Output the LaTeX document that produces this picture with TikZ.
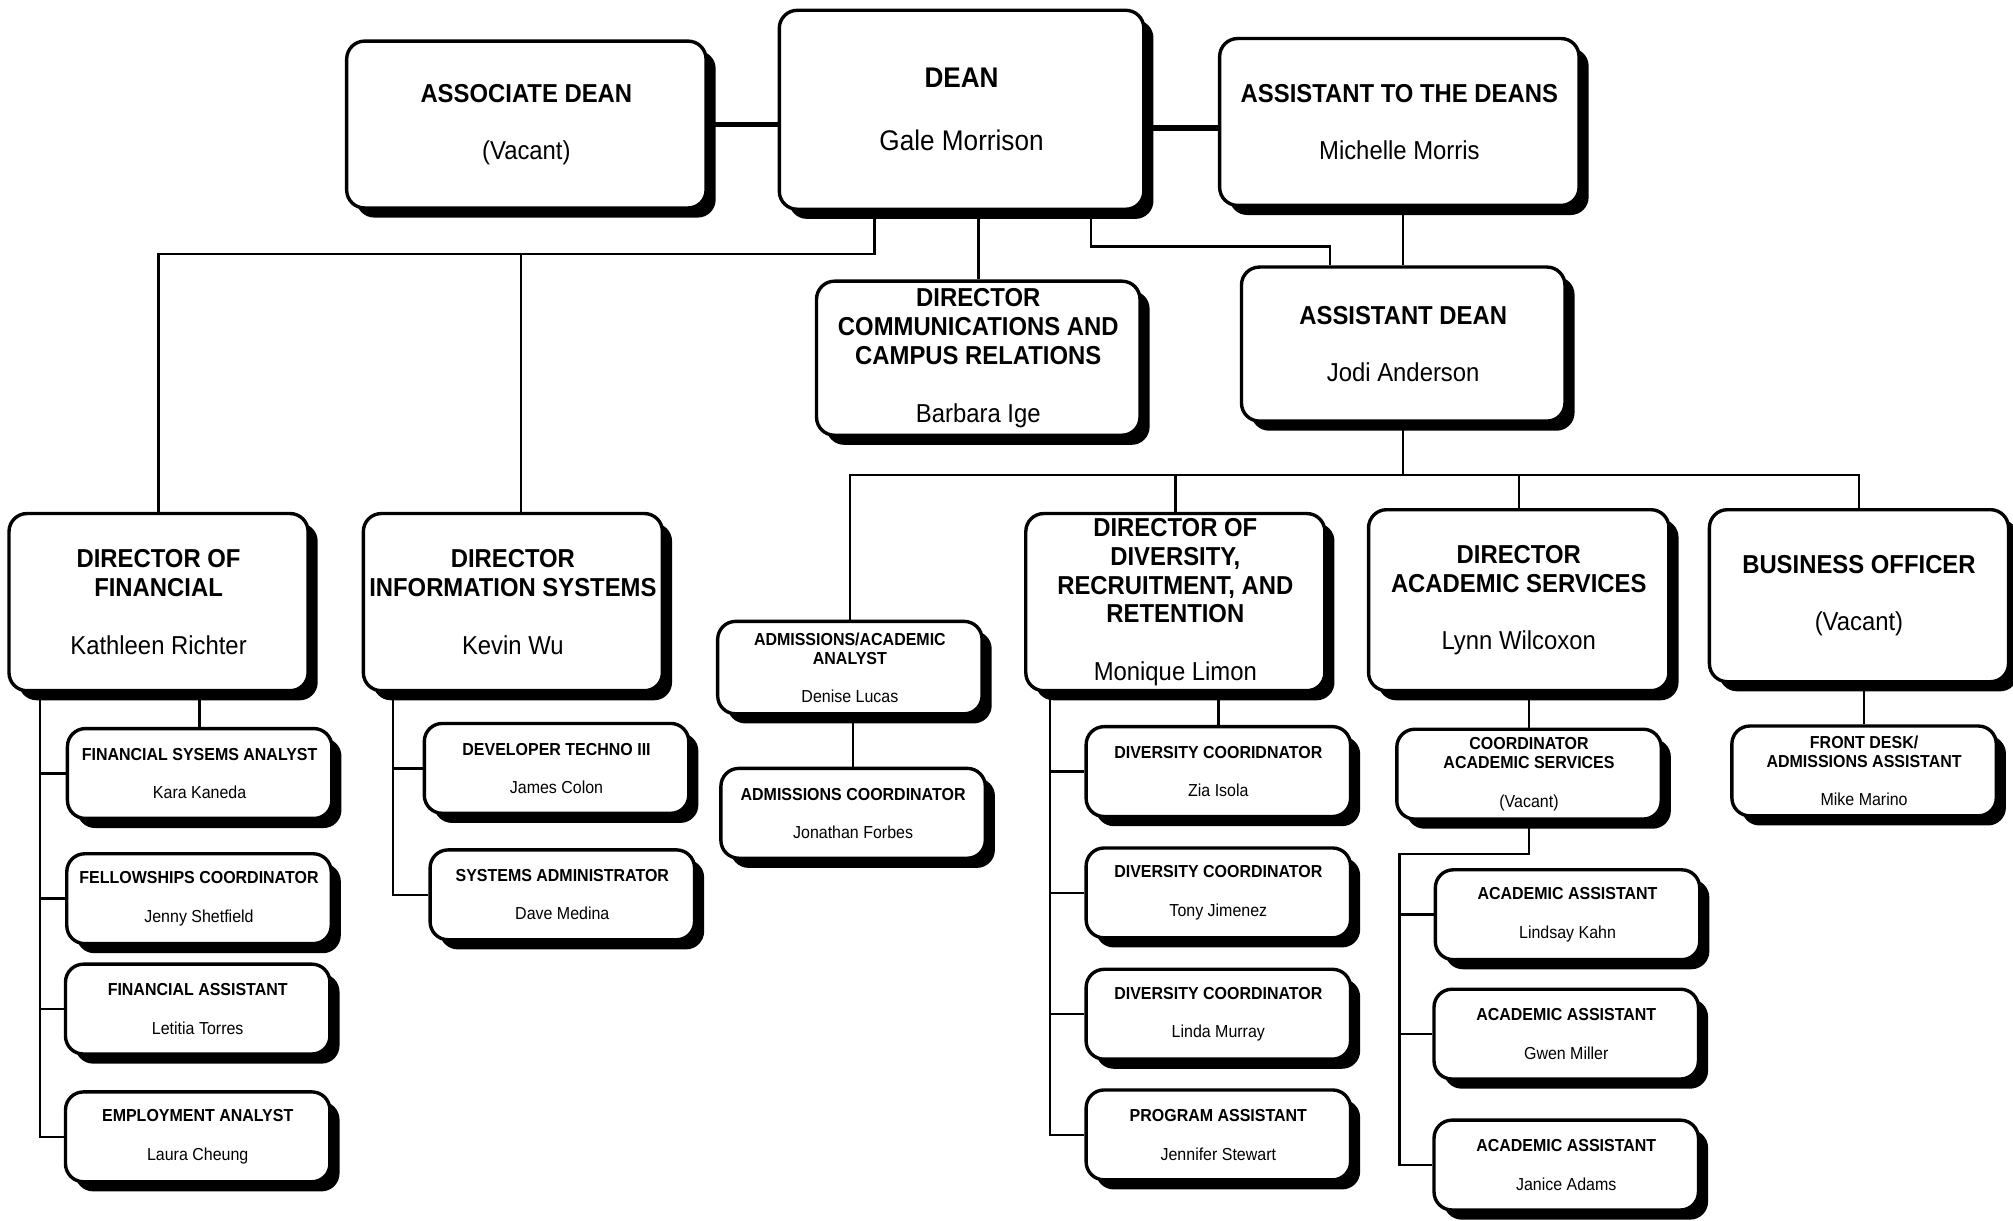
\documentclass[tikz,border=0pt]{standalone}
\usepackage{fontspec}
\setmainfont{Liberation Sans}[FakeStretch=0.92]
\usepackage{tikz}
\usetikzlibrary{shadows,backgrounds}

\tikzset{
	box/.style={draw, line width=1.5pt, fill=white, rounded corners=0.28cm, inner sep=0pt, align=center,
		drop shadow={shadow xshift=0.15cm, shadow yshift=-0.15cm, fill=black, opacity=1}},
	bigbox/.style={box, minimum width=4.66cm, minimum height=2.76cm, font=\fontsize{11.5}{12.8}\selectfont},
	smallbox/.style={box, minimum width=4.12cm, minimum height=1.4cm, font=\fontsize{7.7}{8.5}\selectfont},
	link/.style={line width=1.1pt},
	toplink/.style={line width=2.6pt}
}

\begin{document}
\begin{tikzpicture}[x=0.02cm,y=-0.02cm]
	\useasboundingbox (0,0) rectangle (1568,951);

	\node[bigbox, minimum width=5.6cm, minimum height=2.6cm] at (410,97) (assoc) {\textbf{ASSOCIATE DEAN}\\[12.8pt](Vacant)};
	\node[bigbox, minimum width=5.68cm, minimum height=3.1cm, font=\fontsize{12.6}{13}\selectfont] at (749,85.5) (dean) {\textbf{DEAN}\\[14.9pt]Gale Morrison};
	\node[bigbox, minimum width=5.6cm, minimum height=2.6cm] at (1090,95) (asstdeans) {\textbf{ASSISTANT TO THE DEANS}\\[12.8pt]Michelle Morris};

	\node[bigbox, minimum width=5.04cm, minimum height=2.4cm] at (762,279) (comm) {\textbf{DIRECTOR}\\\textbf{COMMUNICATIONS AND}\\\textbf{CAMPUS RELATIONS}\\[12.8pt]Barbara Ige};
	\node[bigbox, minimum width=5.04cm, minimum height=2.4cm] at (1093,268) (asstdean) {\textbf{ASSISTANT DEAN}\\[12.8pt]Jodi Anderson};

	\node[bigbox] at (123.5,469) (dirfin) {\textbf{DIRECTOR OF}\\\textbf{FINANCIAL}\\[12.8pt]Kathleen Richter};
	\node[bigbox] at (399.5,469) (diris) {\textbf{DIRECTOR}\\\textbf{INFORMATION SYSTEMS}\\[12.8pt]Kevin Wu};
	\node[smallbox, minimum height=1.44cm] at (662,520) (admanalyst) {\textbf{ADMISSIONS/ACADEMIC}\\\textbf{ANALYST}\\[8.5pt]Denise Lucas};
	\node[bigbox] at (915.5,469) (dirdiv) {\textbf{DIRECTOR OF}\\\textbf{DIVERSITY,}\\\textbf{RECRUITMENT, AND}\\\textbf{RETENTION}\\[12.8pt]Monique Limon};
	\node[bigbox, minimum width=4.68cm, minimum height=2.82cm] at (1183,467.5) (diracad) {\textbf{DIRECTOR}\\\textbf{ACADEMIC SERVICES}\\[12.8pt]Lynn Wilcoxon};
	\node[bigbox, minimum height=2.68cm] at (1448,464) (busoff) {\textbf{BUSINESS OFFICER}\\[12.8pt](Vacant)};

	\node[smallbox] at (155.5,602.5) (finsys) {\textbf{FINANCIAL SYSEMS ANALYST}\\[8.5pt]Kara Kaneda};
	\node[smallbox] at (155,700) (fellow) {\textbf{FELLOWSHIPS COORDINATOR}\\[8.5pt]Jenny Shetfield};
	\node[smallbox] at (154,786) (finasst) {\textbf{FINANCIAL ASSISTANT}\\[8.5pt]Letitia Torres};
	\node[smallbox] at (154,885.5) (employ) {\textbf{EMPLOYMENT ANALYST}\\[8.5pt]Laura Cheung};

	\node[smallbox] at (433.5,598.5) (devtech) {\textbf{DEVELOPER TECHNO III}\\[8.5pt]James Colon};
	\node[smallbox] at (438,697) (sysadmin) {\textbf{SYSTEMS ADMINISTRATOR}\\[8.5pt]Dave Medina};

	\node[smallbox] at (664.5,633.5) (admcoord) {\textbf{ADMISSIONS COORDINATOR}\\[8.5pt]Jonathan Forbes};

	\node[smallbox] at (949,601) (divzia) {\textbf{DIVERSITY COORIDNATOR}\\[8.5pt]Zia Isola};
	\node[smallbox] at (949,695.5) (divtony) {\textbf{DIVERSITY COORDINATOR}\\[8.5pt]Tony Jimenez};
	\node[smallbox] at (949,790) (divlinda) {\textbf{DIVERSITY COORDINATOR}\\[8.5pt]Linda Murray};
	\node[smallbox] at (949,884) (progasst) {\textbf{PROGRAM ASSISTANT}\\[8.5pt]Jennifer Stewart};

	\node[smallbox] at (1191,603) (coordacad) {\textbf{COORDINATOR}\\\textbf{ACADEMIC SERVICES}\\[8.5pt](Vacant)};
	\node[smallbox] at (1221,712.5) (acadkahn) {\textbf{ACADEMIC ASSISTANT}\\[8.5pt]Lindsay Kahn};
	\node[smallbox] at (1220,805.5) (acadmiller) {\textbf{ACADEMIC ASSISTANT}\\[8.5pt]Gwen Miller};
	\node[smallbox] at (1220,907.5) (acadadams) {\textbf{ACADEMIC ASSISTANT}\\[8.5pt]Janice Adams};

	\node[smallbox] at (1452,600.5) (frontdesk) {\textbf{FRONT DESK/}\\\textbf{ADMISSIONS ASSISTANT}\\[8.5pt]Mike Marino};

	\begin{scope}[on background layer]
		\draw[toplink] (assoc.east) -- (assoc.east -| dean.west);
		\draw[toplink] (dean.east |- 0,100) -- (asstdeans.west |- 0,100);

		\coordinate (dl) at (681,198);
		\coordinate (dl2) at (406,198);
		\draw[link] (dl |- dean.south) -- (dl) -| (dirfin.north);
		\draw[link] (dl2) -- (dl2 |- diris.north);
		\draw[link] (comm.north) -- (comm.north |- dean.south);
		\coordinate (dr) at (850,192);
		\coordinate (dr2) at (1036,192);
		\draw[link] (dr |- dean.south) -- (dr) -- (dr2) -- (dr2 |- asstdean.north);
		\draw[link] (asstdean.north) -- (asstdean.north |- asstdeans.south);

		\coordinate (ad) at (1093,370);
		\draw[link] (asstdean.south) -- (ad);
		\draw[link] (admanalyst.north) |- (busoff.north |- ad) -- (busoff.north);
		\draw[link] (dirdiv.north) -- (dirdiv.north |- ad);
		\draw[link] (diracad.north) -- (diracad.north |- ad);

		\coordinate (fb) at (31,538);
		\draw[link] (fb) |- (employ.west);
		\foreach \n in {finsys,fellow,finasst}
			\draw[link] (\n.west) -- (\n.west -| fb);
		\draw[link] (finsys.north) -- (finsys.north |- dirfin.south);

		\coordinate (ib) at (306,538);
		\draw[link] (ib) |- (sysadmin.west);
		\draw[link] (devtech.west) -- (devtech.west -| ib);

		\draw[link] (admcoord.north) -- (admcoord.north |- admanalyst.south);

		\coordinate (db) at (818,538);
		\draw[link] (db) |- (progasst.west);
		\foreach \n in {divzia,divtony,divlinda}
			\draw[link] (\n.west) -- (\n.west -| db);
		\draw[link] (divzia.north) -- (divzia.north |- dirdiv.south);

		\draw[link] (coordacad.north) -- (coordacad.north |- diracad.south);
		\coordinate (ab) at (1090,665);
		\draw[link] (coordacad.south) |- (ab) |- (acadadams.west);
		\foreach \n in {acadkahn,acadmiller}
			\draw[link] (\n.west) -- (\n.west -| ab);

		\draw[link] (frontdesk.north) -- (frontdesk.north |- busoff.south);
	\end{scope}
\end{tikzpicture}
\end{document}
